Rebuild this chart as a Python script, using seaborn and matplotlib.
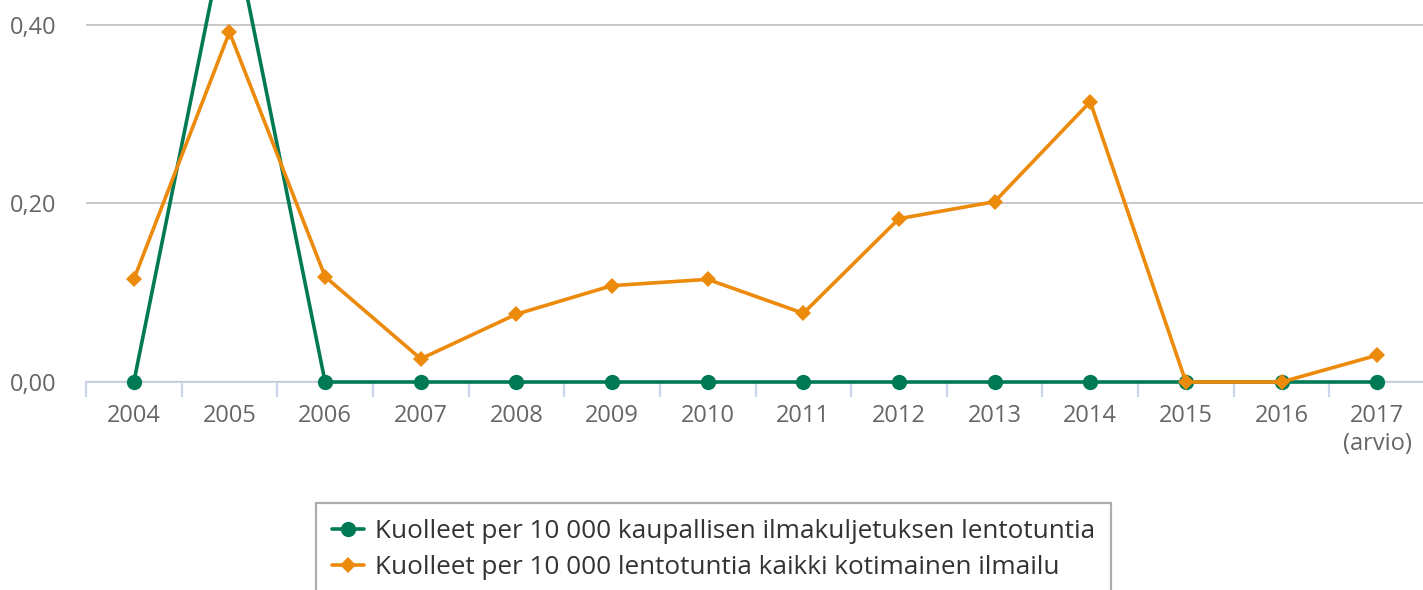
import matplotlib
matplotlib.use("Agg")
import matplotlib.pyplot as plt
import seaborn as sns
import pandas as pd
import numpy as np
from matplotlib.ticker import FuncFormatter, FixedLocator

years = ["2004", "2005", "2006", "2007", "2008", "2009", "2010",
         "2011", "2012", "2013", "2014", "2015", "2016", "2017\n(arvio)"]
commercial = [0.0, 0.53, 0.0, 0.0, 0.0, 0.0, 0.0, 0.0, 0.0, 0.0, 0.0, 0.0, 0.0, 0.0]
all_domestic = [0.115, 0.392, 0.118, 0.026, 0.076, 0.108, 0.115,
                0.077, 0.183, 0.202, 0.314, 0.0, 0.0, 0.030]
name_commercial = "Kuolleet per 10 000 kaupallisen ilmakuljetuksen lentotuntia"
name_all = "Kuolleet per 10 000 lentotuntia kaikki kotimainen ilmailu"

GREEN = "#007a55"
ORANGE = "#ec8a0c"

sns.set_theme(style="white")
plt.rcParams["font.family"] = ["Open Sans", "DejaVu Sans"]

fig = plt.figure(figsize=(14.23, 5.90), dpi=100)
ax = fig.add_axes([86/1423, 1-382/590, (1425-86)/1423, 382/590])

x = np.arange(len(years))
df = pd.DataFrame({"x": np.concatenate([x, x]),
                   "value": commercial + all_domestic,
                   "series": [name_commercial]*len(x) + [name_all]*len(x)})

sns.lineplot(data=df, x="x", y="value", hue="series", style="series",
             palette=[GREEN, ORANGE], markers=["o", "D"], dashes=False,
             markersize=11, linewidth=2.6, markeredgewidth=0, ax=ax,
             legend=True)
for ln in ax.lines:
    ln.set_clip_on(False)
    if ln.get_marker() == "D":
        ln.set_markersize(8.5)

ax.set_xlim(-0.5, len(years) - 0.5)
ax.set_ylim(0, 0.428)
ax.set_xlabel("")
ax.set_ylabel("")

ax.set_yticks([0.0, 0.2, 0.4])
ax.yaxis.set_major_formatter(FuncFormatter(lambda v, p: f"{v:.2f}".replace(".", ",")))
ax.grid(axis="y", color="#c8c8c8", linewidth=1.4)
ax.grid(axis="x", visible=False)
ax.tick_params(axis="y", length=0, labelsize=17, labelcolor="#666666", pad=21)

ax.set_xticks(x)
ax.set_xticklabels(years)
ax.tick_params(axis="x", which="major", length=0, labelsize=17, labelcolor="#666666", pad=16)
ax.xaxis.set_minor_locator(FixedLocator(np.arange(-0.5, len(years), 1.0)))
ax.tick_params(axis="x", which="minor", bottom=True, length=11, width=1.6,
               color="#ccd6eb", direction="out")

for s in ["top", "right", "left"]:
    ax.spines[s].set_visible(False)
ax.spines["bottom"].set_color("#ccd6eb")
ax.spines["bottom"].set_linewidth(1.6)
ax.spines["bottom"].set_zorder(0)

handles, labels = ax.get_legend_handles_labels()
ax.get_legend().remove()
leg = fig.legend(handles, labels, loc="upper left",
                 bbox_to_anchor=(316/1423, 1-503/590),
                 frameon=True, fancybox=False, fontsize=18.8,
                 handlelength=1.25, handletextpad=0.4, labelspacing=0.45,
                 borderpad=0.6, borderaxespad=0)
leg.get_frame().set_edgecolor("#999999")
leg.get_frame().set_linewidth(1.6)
for t in leg.get_texts():
    t.set_color("#333333")

fig.savefig("out.png", dpi=100)
